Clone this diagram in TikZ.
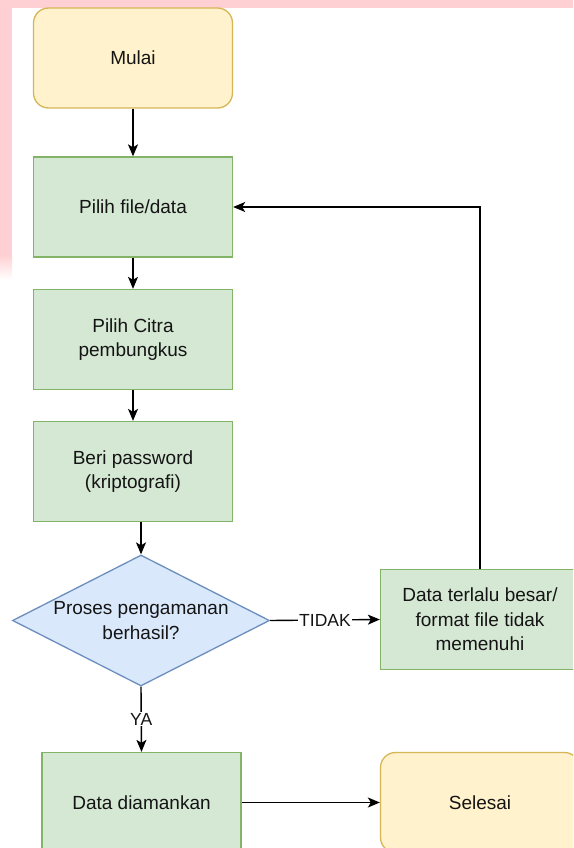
\documentclass[tikz,border=0pt]{standalone}
\usepackage{fontspec}
\setmainfont{Liberation Sans}
\usetikzlibrary{arrows.meta,shapes.geometric}
\definecolor{yfill}{HTML}{FFF2CC}
\definecolor{ydraw}{HTML}{D6B656}
\definecolor{gfill}{HTML}{D5E8D4}
\definecolor{gdraw}{HTML}{82B366}
\definecolor{bfill}{HTML}{DAE8FC}
\definecolor{bdraw}{HTML}{6C8EBF}
\definecolor{pinkband}{HTML}{FFD0D3}
\definecolor{txt}{HTML}{141414}
\tikzset{
  base/.style={font=\fontsize{19}{24.5}\selectfont, text=txt, align=center, line width=1.3pt, inner sep=0pt},
  term/.style={base, draw=ydraw, fill=yfill, rounded corners=15pt, minimum width=199pt, minimum height=100pt},
  proc/.style={base, draw=gdraw, fill=gfill, minimum width=199pt, minimum height=100pt},
  dec/.style={base, diamond, draw=bdraw, fill=bfill, minimum width=257pt, minimum height=131pt},
  conn/.style={line width=1.4pt, draw=black, -{Stealth[length=12pt,width=10pt,inset=3pt]}},
  lbl/.style={font=\fontsize{17.5}{20}\selectfont, text=txt, fill=white, inner sep=1pt}
}
\begin{document}
\begin{tikzpicture}[x=1pt,y=-1pt]
\useasboundingbox (0,0) rectangle (573,848);
\clip (0,0) rectangle (573,848);
\fill[white] (0,0) rectangle (573,848);
% pink crop band
\fill[pinkband] (0,0) rectangle (573,8);
\fill[pinkband] (0,0) rectangle (12,255);
\shade[top color=pinkband, bottom color=white] (0,255) rectangle (12,280);

\node[term] (mulai) at (133,58) {Mulai};
\node[proc] (pilih) at (133,207) {Pilih file/data};
\node[proc] (citra) at (133,339.5) {Pilih Citra\\pembungkus};
\node[proc] (beri) at (133,471.5) {Beri password\\(kriptografi)};
\node[dec] (cek) at (141,620.5) {};
\node[base] (cektext) at (cek.center) {Proses pengamanan\\berhasil?};
\node[proc] (besar) at (480,619.5) {Data terlalu besar/\\format file tidak\\memenuhi};
\node[proc] (aman) at (141.5,802.5) {Data diamankan};
\node[term] (selesai) at (480,802.5) {Selesai};

\draw[conn] (mulai.south) -- (pilih.north);
\draw[conn] (pilih.south) -- (citra.north);
\draw[conn] (citra.south) -- (beri.north);
\draw[conn] (beri.south -| cek.north) -- (cek.north);
\draw[conn] (cek.east) -- node[lbl] {TIDAK} (besar.west);
\draw[conn] (besar.north) |- (pilih.east);
\draw[conn] (cek.south) -- node[lbl] {YA} (aman.north);
\draw[conn] (aman.east) -- (selesai.west);
\end{tikzpicture}
\end{document}
